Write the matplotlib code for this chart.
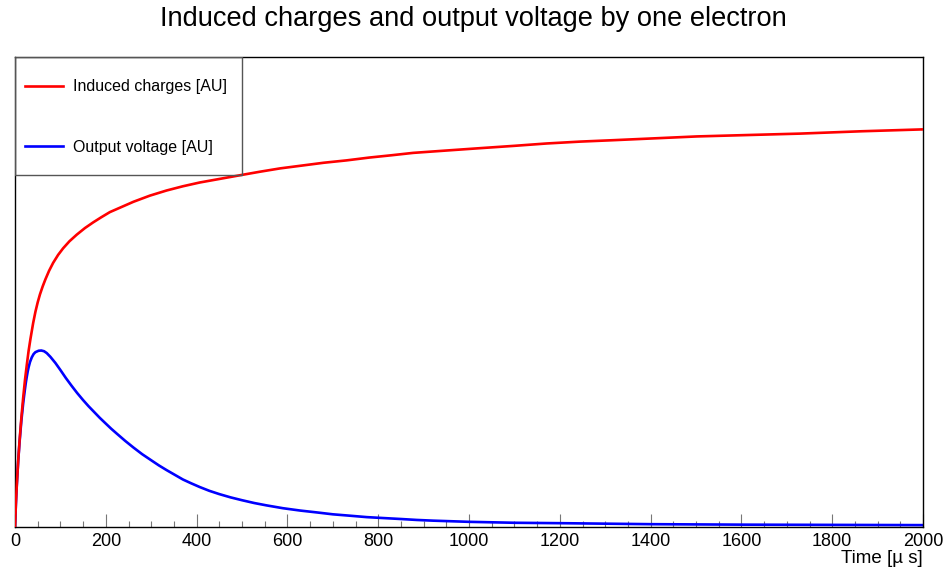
import matplotlib
matplotlib.use("Agg")
import matplotlib.pyplot as plt
from matplotlib.patches import Rectangle
from matplotlib.ticker import MultipleLocator

plt.rcParams['font.family'] = ['Liberation Sans', 'DejaVu Sans']

# time axis in micro seconds, values in arbitrary units (fraction of frame height)
t_charge = [0, 2, 4, 7, 10, 14, 18, 22, 26, 30, 34, 40, 45, 50, 55, 61, 67, 75, 84,
            95, 106, 120, 136, 154, 172, 190, 209, 235, 261, 297, 334, 370, 407,
            453, 499, 540, 584, 632, 680, 730, 780, 830, 877, 950, 1024, 1100,
            1171, 1245, 1318, 1410, 1502, 1615, 1729, 1865, 2000]
charge = [0, 0.05, 0.09, 0.14, 0.183, 0.232, 0.275, 0.313, 0.345, 0.375, 0.400,
          0.434, 0.458, 0.478, 0.495, 0.512, 0.527, 0.545, 0.562, 0.579, 0.593,
          0.608, 0.622, 0.636, 0.648, 0.659, 0.670, 0.681, 0.692, 0.705, 0.716,
          0.725, 0.733, 0.741, 0.749, 0.756, 0.763, 0.769, 0.775, 0.780, 0.786,
          0.791, 0.796, 0.801, 0.806, 0.811, 0.816, 0.820, 0.823, 0.827, 0.831,
          0.834, 0.837, 0.842, 0.846]

t_volt = [0, 2, 4, 7, 10, 14, 18, 20, 22, 24, 26, 28, 30, 33, 37, 41, 45, 52, 58,
          64, 70, 78, 89, 100, 112, 125, 137, 150, 162, 175, 187, 200, 212, 225,
          243, 261, 280, 300, 317, 334, 352, 370, 388, 407, 428, 450, 475, 500,
          527, 554, 590, 628, 665, 700, 738, 775, 812, 850, 885, 921, 1000, 1100,
          1215, 1400, 1600, 1800, 2000]
volt = [0, 0.05, 0.09, 0.14, 0.18, 0.226, 0.263, 0.279, 0.294, 0.308, 0.320, 0.331,
        0.340, 0.351, 0.361, 0.368, 0.372, 0.375, 0.3755, 0.374, 0.370, 0.362,
        0.349, 0.334, 0.317, 0.300, 0.285, 0.270, 0.257, 0.244, 0.232, 0.220,
        0.209, 0.198, 0.183, 0.169, 0.155, 0.142, 0.131, 0.121, 0.111, 0.101,
        0.093, 0.085, 0.077, 0.070, 0.063, 0.057, 0.051, 0.046, 0.040, 0.035,
        0.031, 0.027, 0.024, 0.021, 0.019, 0.017, 0.015, 0.0135, 0.011, 0.009,
        0.008, 0.006, 0.005, 0.0045, 0.004]

labels = ["Induced charges [AU]", "Output voltage [AU]"]

fig = plt.figure(figsize=(9.47, 5.72), dpi=100)
ax = fig.add_axes([15/947, 45/572, 908/947, 470/572])

l2, = ax.plot(t_volt, volt, color='#0000ff', lw=1.9, zorder=2)
l1, = ax.plot(t_charge, charge, color='#ff0000', lw=1.9, zorder=3)

ax.set_xlim(0, 2000)
ax.set_ylim(0, 1)
ax.xaxis.set_major_locator(MultipleLocator(200))
ax.xaxis.set_minor_locator(MultipleLocator(50))
ax.tick_params(axis='x', which='major', direction='in', length=9.5, width=0.8,
               color='#777777', labelsize=13, pad=4)
ax.tick_params(axis='x', which='minor', direction='in', length=4.3, width=0.8,
               color='#777777')
ax.tick_params(axis='y', which='both', left=False, labelleft=False)
for s in ax.spines.values():
    s.set_color('black')
    s.set_linewidth(1)

ax.set_xlabel("Time [µ s]", fontsize=13.5, loc='right', labelpad=0)

# legend box in the upper left corner
ax.add_patch(Rectangle((0, 0.749), 0.25, 0.251, transform=ax.transAxes,
                       fill=False, edgecolor='#555555', lw=1, zorder=5))
ax.legend([l1, l2], labels, loc='center left', bbox_to_anchor=(0.011, 0.8725),
          frameon=False, fontsize=11.5, handlelength=2.4, handletextpad=0.6,
          labelspacing=2.85, borderpad=0, borderaxespad=0)

fig.suptitle("Induced charges and output voltage by one electron", fontsize=19.6,
             x=0.5, y=0.967, va='center')

fig.savefig("out.png", dpi=100)
